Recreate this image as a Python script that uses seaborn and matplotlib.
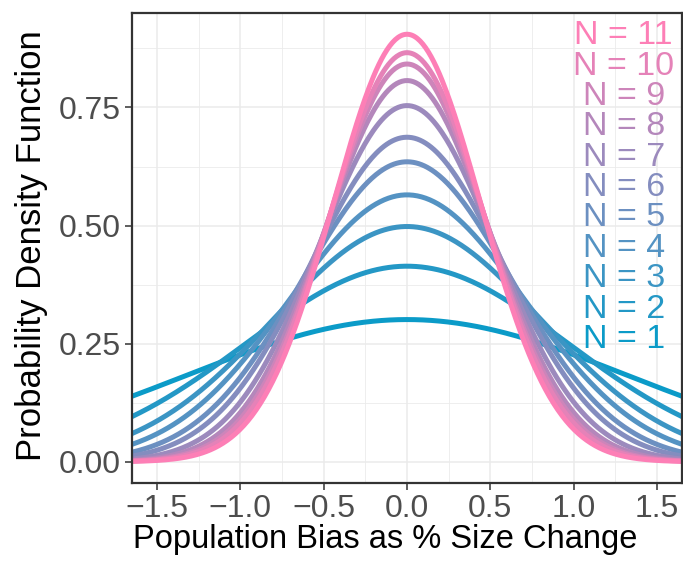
import numpy as np
import pandas as pd
import seaborn as sns
import matplotlib.pyplot as plt
from matplotlib.colors import to_hex, to_rgb
from matplotlib.ticker import MultipleLocator

# Peak heights of the density curve for each N
n_values = [1, 2, 3, 4, 5, 6, 7, 8, 9, 10, 11]
peak_heights = [0.301, 0.414, 0.498, 0.565, 0.635, 0.687, 0.754, 0.807, 0.842, 0.866, 0.905]
x_range = [-1.65, 1.65]
color_low = "#0b9bc8"
color_high = "#fd7fb6"

# Each curve is a normal density with mean 0 and the peak height above
x = np.linspace(x_range[0], x_range[1], 400)
rows = []
for n, peak in zip(n_values, peak_heights):
    sd = 1 / (peak * np.sqrt(2 * np.pi))
    y = peak * np.exp(-x ** 2 / (2 * sd ** 2))
    rows.append(pd.DataFrame({"x": x, "density": y, "N": n}))
df = pd.concat(rows, ignore_index=True)

lo = np.array(to_rgb(color_low))
hi = np.array(to_rgb(color_high))
palette = [to_hex(lo + (hi - lo) * i / (len(n_values) - 1)) for i in range(len(n_values))]

sns.set_style("white")
plt.rcParams['font.family'] = ['Liberation Sans', 'DejaVu Sans']

fig = plt.figure(figsize=(6.83, 5.63), dpi=100)
ax = fig.add_axes([0.1933, 0.1421, 0.8052, 0.8348])

sns.lineplot(data=df, x="x", y="density", hue="N", palette=palette,
             linewidth=3.6, legend=False, ax=ax)

ax.set_xlim(x_range)
ax.set_ylim(-0.045, 0.95)
ax.xaxis.set_minor_locator(MultipleLocator(0.25))
ax.yaxis.set_minor_locator(MultipleLocator(0.125))
ax.set_xticks([-1.5, -1.0, -0.5, 0.0, 0.5, 1.0, 1.5])
ax.set_xticklabels(["\u22121.5", "\u22121.0", "\u22120.5", "0.0", "0.5", "1.0", "1.5"])
ax.set_yticks([0.0, 0.25, 0.5, 0.75])
ax.set_yticklabels(["0.00", "0.25", "0.50", "0.75"])
ax.grid(True, which="major", color="#ebebeb", linewidth=1.1)
ax.grid(True, which="minor", color="#ebebeb", linewidth=0.6)
ax.set_axisbelow(True)
for s in ax.spines.values():
    s.set_visible(True)
    s.set_color("#333333")
    s.set_linewidth(1.6)
ax.tick_params(axis="both", which="major", length=5, width=1.1, color="#333333",
               labelsize=23, labelcolor="#4d4d4d", pad=3, direction="out",
               bottom=True, left=True)
ax.tick_params(axis="both", which="minor", length=0)

ax.set_xlabel("Population Bias as % Size Change", fontsize=23.5, color="black")
ax.xaxis.set_label_coords(0.46, -0.088)
ax.set_ylabel("Probability Density Function", fontsize=25, color="black")
ax.yaxis.set_label_coords(-0.152, 0.505)

# Labels for each N, stacked at the top right
label_x = 1.30
label_top = 0.902
label_step = 0.0643
for i, (n, c) in enumerate(zip(n_values[::-1], palette[::-1])):
    ax.text(label_x, label_top - i * label_step, f"N = {n}", color=c,
            fontsize=24.5, ha="center", va="center")

fig.savefig("out.png", dpi=100)
